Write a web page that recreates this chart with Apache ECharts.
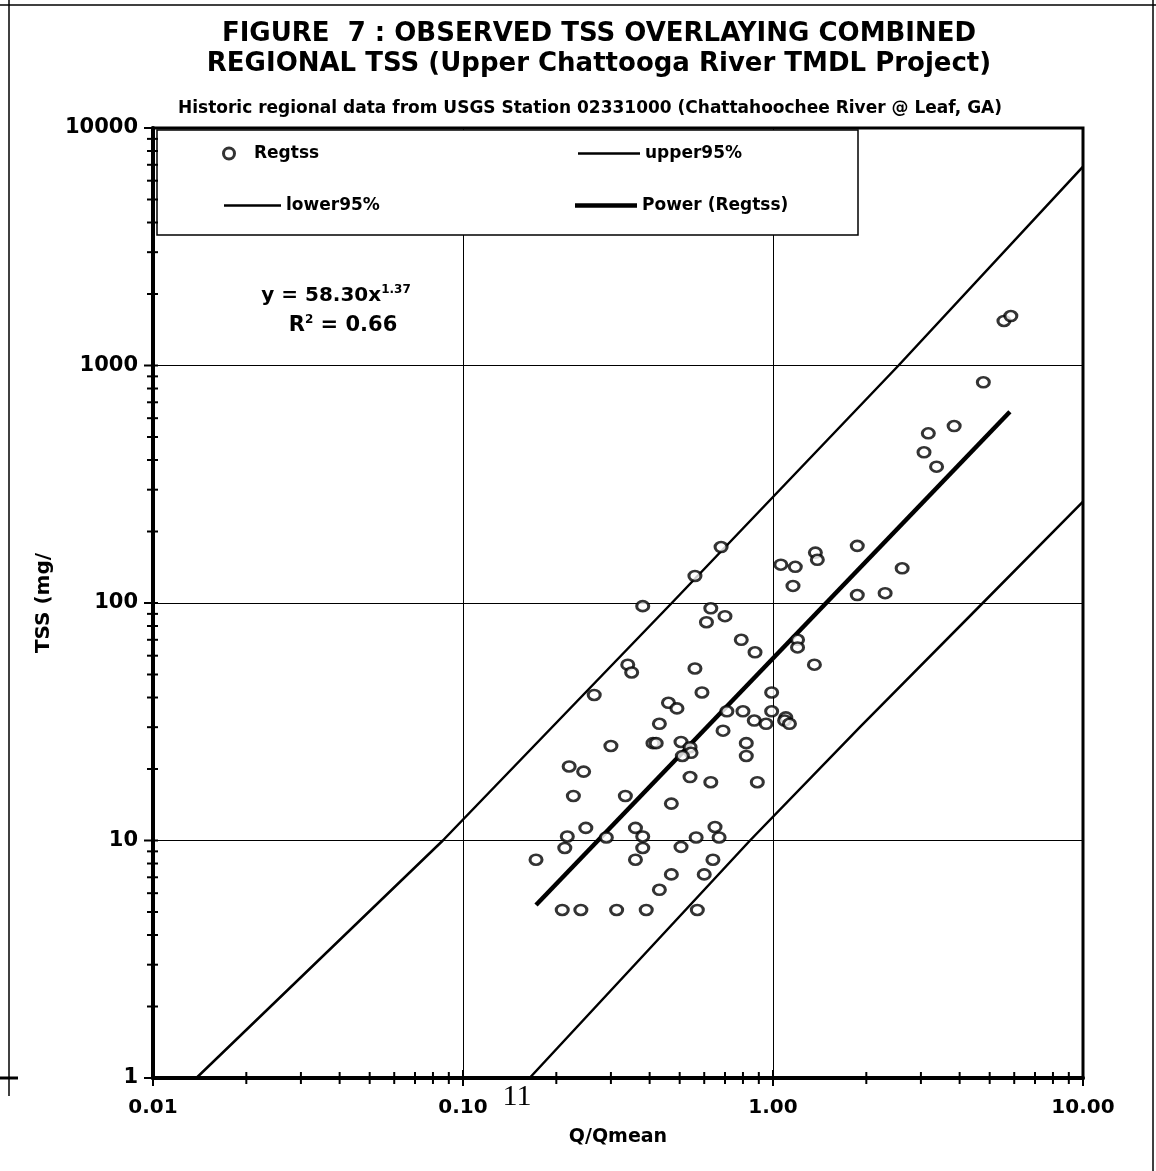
<!DOCTYPE html>
<html><head><meta charset="utf-8">
<script src="https://cdn.jsdelivr.net/npm/echarts@6/dist/echarts.min.js"></script>
<style>html,body{margin:0;padding:0;background:#fff}#c{width:1156px;height:1171px}</style>
</head><body><div id="c"></div>
<script>
// Observed regional TSS points (Q/Qmean, TSS mg/L)
const qmean = [0.68,0.56,0.38,0.63,0.70,0.61,1.06,1.18,1.16,1.37,1.39,1.87,2.61,1.87,2.30,0.79,0.875,1.20,1.20,1.36,
  0.34,0.35,0.56,0.265,0.59,0.46,0.49,0.43,0.71,0.80,0.87,0.95,0.99,0.99,1.10,1.09,1.13,0.69,0.30,0.41,
  0.42,0.505,0.54,0.544,0.51,0.82,0.82,0.22,0.245,0.54,0.63,0.89,0.227,0.334,0.47,0.249,0.36,0.217,0.29,0.38,
  0.565,0.65,0.67,0.213,0.38,0.505,0.172,0.36,0.64,0.47,0.60,0.43,0.209,0.24,0.313,0.39,0.57,5.56,5.85,4.77,
  3.84,3.17,3.07,3.37];
const tss = [172,130,97,95,88,83,145,142,118,163,152,174,140,108,110,70,62,70,65,55,
  55,51,53,41,42,38,36,31,35,35,32,31,42,35,33,32,31,29,25,25.7,
  25.7,26,24.7,23.4,22.7,25.7,22.7,20.5,19.5,18.5,17.6,17.6,15.4,15.4,14.3,11.3,11.3,10.4,10.3,10.4,
  10.3,11.4,10.3,9.3,9.3,9.4,8.3,8.3,8.3,7.2,7.2,6.2,5.1,5.1,5.1,5.1,5.1,1540,1615,850,
  556,518,431,375];
// Band and fit lines
const upperX = [0.0138, 0.0861, 0.4715, 2.54, 10];
const upperY = [1, 10, 100, 1000, 6870];
const lowerX = [0.164, 0.843, 1.91, 4.75, 10];
const lowerY = [1, 10, 30.1, 100, 267];
const powerX = [0.172, 5.81];
const powerY = [5.35, 639];
// Tick labels
const xTickLabels = ['0.01','0.10','1.00','10.00'];
const yTickLabels = ['1','10','100','1000','10000'];

function pairs(xs, ys){ return xs.map((x,i)=>[x, ys[i]]); }
const F = 'DejaVu Sans';
const chart = echarts.init(document.getElementById('c'), null, {renderer:'canvas'});
const bold = (s)=>({fontFamily:F, fontWeight:'bold', fontSize:s, color:'#000'});

const staticGraphics = [
  {type:'rect', z:3, shape:{x:157, y:130, width:701, height:105}, style:{fill:'#fff', stroke:'#000', lineWidth:1.5}},
  {type:'text', z:10, x:336, y:296, style:{text:'{a|y = 58.30x}{s|1.37}', align:'center', verticalAlign:'middle',
    rich:{a:{fontFamily:F, fontWeight:'bold', fontSize:20, lineHeight:24, fill:'#000'},
          s:{fontFamily:F, fontWeight:'bold', fontSize:12, lineHeight:12, verticalAlign:'top', fill:'#000'}}}},
  {type:'text', z:10, x:343, y:326, style:{text:'{a|R}{s|2}{a| = 0.66}', align:'center', verticalAlign:'middle',
    rich:{a:{fontFamily:F, fontWeight:'bold', fontSize:21, lineHeight:24, fill:'#000'},
          s:{fontFamily:F, fontWeight:'bold', fontSize:12, lineHeight:12, verticalAlign:'top', fill:'#000'}}}},
  {type:'text', z:10, x:517, y:1097, style:{text:'11', align:'center', verticalAlign:'middle', fontFamily:'Liberation Serif', fontSize:30, fill:'#000'}},
  {type:'line', z:10, shape:{x1:0, y1:5, x2:1156, y2:5}, style:{stroke:'#000', lineWidth:1.5}},
  {type:'line', z:10, shape:{x1:9, y1:0, x2:9, y2:1096}, style:{stroke:'#000', lineWidth:1.5}},
  {type:'line', z:10, shape:{x1:1153, y1:0, x2:1153, y2:1171}, style:{stroke:'#000', lineWidth:1.5}},
  {type:'line', z:10, shape:{x1:0, y1:1078, x2:18, y2:1078}, style:{stroke:'#000', lineWidth:3}}
];

const legendText = {fontFamily:F, fontWeight:'bold', fontSize:17, color:'#000'};
const option = {
  animation:false,
  backgroundColor:'#fff',
  title:[
    {text:'FIGURE  7 : OBSERVED TSS OVERLAYING COMBINED\nREGIONAL TSS (Upper Chattooga River TMDL Project)',
     left:594, top:14, textAlign:'center', textStyle:{fontFamily:F, fontWeight:'bold', fontSize:26, lineHeight:30, color:'#000'}},
    {text:'Historic regional data from USGS Station 02331000 (Chattahoochee River @ Leaf, GA)',
     left:585, top:94, textAlign:'center', textStyle:{fontFamily:F, fontWeight:'bold', fontSize:17, lineHeight:20, color:'#000'}}
  ],
  grid:{left:153, right:73, top:128, bottom:93, show:true, borderColor:'#000', borderWidth:3, backgroundColor:'transparent'},
  xAxis:{type:'log', logBase:10, min:0.01, max:10, splitNumber:3,
    name:'Q/Qmean', nameLocation:'middle', nameGap:50, nameTextStyle:bold(19),
    axisLine:{lineStyle:{color:'#000', width:4}}, axisTick:{show:false},
    splitLine:{show:true, lineStyle:{color:'#000', width:1}},
    axisLabel:{margin:20, ...bold(20), formatter:v=>xTickLabels[Math.round(Math.log10(v))+2]}},
  yAxis:{type:'log', logBase:10, min:1, max:10000, splitNumber:4,
    name:'TSS (mg/', nameLocation:'middle', nameGap:98, nameTextStyle:bold(20),
    axisLine:{lineStyle:{color:'#000', width:4}}, axisTick:{show:false},
    splitLine:{show:true, lineStyle:{color:'#000', width:1}},
    axisLabel:{margin:15, ...bold(21), formatter:v=>yTickLabels[Math.round(Math.log10(v))]}},
  legend:[
    {left:222, top:145, padding:0, selectedMode:false, data:[{name:'Regtss', icon:'circle'}], itemWidth:40, itemHeight:11,
     itemStyle:{color:'#fff', borderColor:'#000', borderWidth:3}, textStyle:legendText},
    {left:578, top:145, padding:0, selectedMode:false, data:[{name:'upper95%', icon:'rect'}], itemWidth:62, itemHeight:2.5, textStyle:legendText},
    {left:224, top:197, padding:0, selectedMode:false, data:[{name:'lower95%', icon:'rect'}], itemWidth:57, itemHeight:2.5, textStyle:legendText},
    {left:575, top:197, padding:0, selectedMode:false, data:[{name:'Power (Regtss)', icon:'rect'}], itemWidth:62, itemHeight:4.5, textStyle:legendText}
  ],
  graphic:{elements:staticGraphics},
  series:[
    {name:'Regtss', type:'scatter', data:pairs(qmean,tss), symbol:'circle', symbolSize:[12,10], z:6,
     itemStyle:{color:'#fff', borderColor:'#000', borderWidth:2.8}},
    {name:'upper95%', type:'line', data:pairs(upperX,upperY), symbol:'none', z:4,
     lineStyle:{color:'#000', width:2.5}, itemStyle:{color:'#000'}},
    {name:'lower95%', type:'line', data:pairs(lowerX,lowerY), symbol:'none', z:4,
     lineStyle:{color:'#000', width:2.5}, itemStyle:{color:'#000'}},
    {name:'Power (Regtss)', type:'line', data:pairs(powerX,powerY), symbol:'none', z:5,
     lineStyle:{color:'#000', width:4.5}, itemStyle:{color:'#000'}}
  ]
};
chart.setOption(option);

// axis ticks (major + minor on log scale), crossing the axis lines
const ticks = [];
const base = chart.convertToPixel({gridIndex:0}, [0.01, 1]);
const xDec = [0.01, 0.1, 1];
xDec.forEach(d=>{ for(let m=1;m<=9;m++){ const v=d*m; const px=chart.convertToPixel({gridIndex:0},[v,1])[0];
  const L = m===1?8:6; ticks.push({type:'line', z:20, shape:{x1:px,y1:base[1]-L,x2:px,y2:base[1]+L}, style:{stroke:'#000',lineWidth:2}}); }});
{ const px=chart.convertToPixel({gridIndex:0},[10,1])[0]; ticks.push({type:'line', z:20, shape:{x1:px,y1:base[1]-8,x2:px,y2:base[1]+8}, style:{stroke:'#000',lineWidth:2}}); }
const yDec = [1, 10, 100, 1000];
yDec.forEach(d=>{ for(let m=1;m<=9;m++){ const v=d*m; const py=chart.convertToPixel({gridIndex:0},[0.01,v])[1];
  const L = m===1?9:6; ticks.push({type:'line', z:20, shape:{x1:base[0]-L,y1:py,x2:base[0]+5,y2:py}, style:{stroke:'#000',lineWidth:2}}); }});
{ const py=chart.convertToPixel({gridIndex:0},[0.01,10000])[1]; ticks.push({type:'line', z:20, shape:{x1:base[0]-9,y1:py,x2:base[0]+5,y2:py}, style:{stroke:'#000',lineWidth:2}}); }
chart.setOption({graphic:{elements:staticGraphics.concat(ticks)}});
</script>
</body></html>
